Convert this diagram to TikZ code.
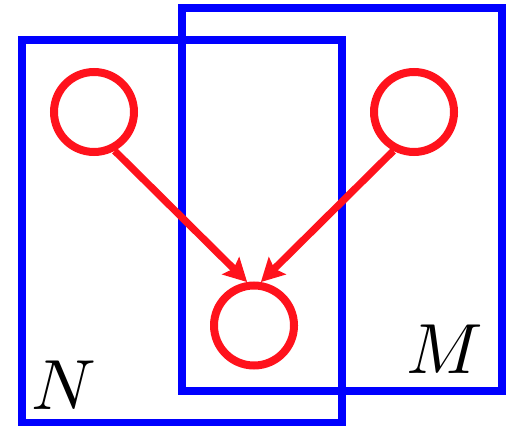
\documentclass[tikz,border=0pt]{standalone}
\usetikzlibrary{arrows.meta}
\definecolor{plateblue}{RGB}{0,0,255}
\definecolor{varred}{RGB}{255,18,28}
\tikzset{
  plate/.style={draw=plateblue, line width=3.85pt},
  var/.style={circle, draw=varred, line width=4pt, minimum size=40pt, inner sep=0pt},
  edge/.style={draw=varred, line width=3.6pt, -{Stealth[length=11.5pt, width=12pt, inset=2pt]}},
  platelabel/.style={inner sep=0pt, scale=3.55}
}
\begin{document}
\begin{tikzpicture}[x=0.5pt, y=-0.5pt]
  \useasboundingbox (0,0) rectangle (506,426);
  \draw[plate] (22,40) rectangle (342,423);
  \draw[plate] (182,8) rectangle (502,391);
  \node[var] (a) at (94,112) {};
  \node[var] (b) at (414,112) {};
  \node[var] (c) at (254,325.5) {};
  \draw[edge] (a.-62) -- (c.99);
  \draw[edge] (b.-118) -- (c.81);
  \node[platelabel] (n) at (64,385) {$N$};
  \node[platelabel] (m) at (445,349) {$M$};
\end{tikzpicture}
\end{document}
